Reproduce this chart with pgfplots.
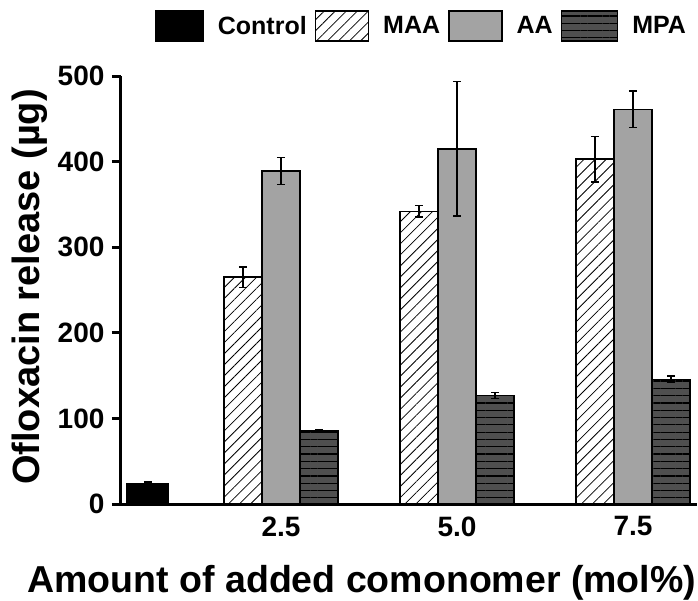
\documentclass[border=0pt]{standalone}
\usepackage{fontspec}
\setmainfont{Liberation Sans}
\usepackage{pgfplots}
\usepackage{pgfplotstable}
\pgfplotsset{compat=1.18}
\usetikzlibrary{patterns.meta}
\definecolor{aagray}{HTML}{A3A3A3}
\definecolor{mpagray}{HTML}{4F4F4F}
\pgfplotsset{
  legA/.style={legend image code/.code={\draw[##1] (0pt,-15pt) rectangle (47pt,15pt);}},
  legB/.style={legend image code/.code={\draw[##1] (0pt,-15pt) rectangle (53pt,15pt);}},
  legC/.style={legend image code/.code={\draw[##1] (0pt,-15pt) rectangle (56pt,15pt);}},
}
\pgfplotstableread{
x y e
0.153 23.4 2.3
}\ctrl
\pgfplotstableread{
x y e
0.909 265 12
1.909 342 6.7
2.909 403 26.7
}\maa
\pgfplotstableread{
x y e
0.909 389 15.5
1.909 415 78.6
2.909 461 21.4
}\aa
\pgfplotstableread{
x y e
0.909 85.3 2
1.909 126.5 3.5
2.909 145.7 3.7
}\mpa
\begin{document}
\begin{tikzpicture}
\begin{axis}[name=ax, at={(0,0)}, anchor=south west,
  scale only axis, width=576pt, height=428pt,
  xmin=0, xmax=3.2727, ymin=0, ymax=500, clip=false,
  axis lines=left, axis line style={line width=3pt,-},
  ytick={0,100,...,500}, xtick={0.909,1.909,2.909}, xticklabels={2.5,5.0,7.5},
  x tick style={draw=none}, y tick style={line width=3pt,black},
  tick align=outside, major tick length=9pt,
  /pgf/number format/assume math mode=true,
  ticklabel style={font=\bfseries\fontsize{28}{28}\selectfont},
  yticklabel style={xshift=-4pt},
  ylabel={Ofloxacin release (µg)},
  ylabel style={font=\bfseries\fontsize{38}{38}\selectfont, at={(axis description cs:-0.158,0.507)}, anchor=center},
  xlabel={Amount of added comonomer (mol\%)},
  xlabel style={font=\bfseries\fontsize{37.5}{37.5}\selectfont, at={(axis description cs:0.418,-0.2056)}, anchor=base},
  ybar, bar width=0.216,
  error bars/error bar style={line width=1.3pt,black},
  error bars/error mark options={rotate=90,mark size=4pt,line width=1.3pt,black},
  legend columns=4,
  legend style={at={(axis description cs:0.522,1.117)}, anchor=center, draw=none,
    font=\bfseries\fontsize{25}{25}\selectfont,
    /tikz/every even column/.style={column sep=6pt},
    /tikz/every odd column/.style={column sep=12pt}},
]
\addplot[fill=black, draw=black, line width=1.5pt, bar shift=0, bar width=0.235, legA,
  error bars/.cd, y dir=both, y explicit]
  table[x=x,y=y,y error=e]{\ctrl};
\addlegendentry{Control}
\addplot[fill=white, draw=black, line width=1.5pt, bar shift=-0.216, legB,
  postaction={pattern={Lines[angle=45,distance=7.8pt,line width=0.8pt]},pattern color=black},
  error bars/.cd, y dir=both, y explicit]
  table[x=x,y=y,y error=e]{\maa};
\addlegendentry{MAA}
\addplot[fill=aagray, draw=black, line width=1.5pt, bar shift=0, legB,
  error bars/.cd, y dir=both, y explicit]
  table[x=x,y=y,y error=e]{\aa};
\addlegendentry{AA}
\addplot[fill=mpagray, draw=black, line width=1.5pt, bar shift=0.216, legC,
  postaction={pattern={Lines[angle=0,distance=7.3pt,line width=1.2pt]},pattern color=black},
  error bars/.cd, y dir=both, y explicit]
  table[x=x,y=y,y error=e]{\mpa};
\addlegendentry{MPA}
\end{axis}
\pgfresetboundingbox
\path ([shift={(-121pt,-96pt)}]ax.south west) rectangle ++(698pt,600pt);
\end{tikzpicture}
\end{document}
